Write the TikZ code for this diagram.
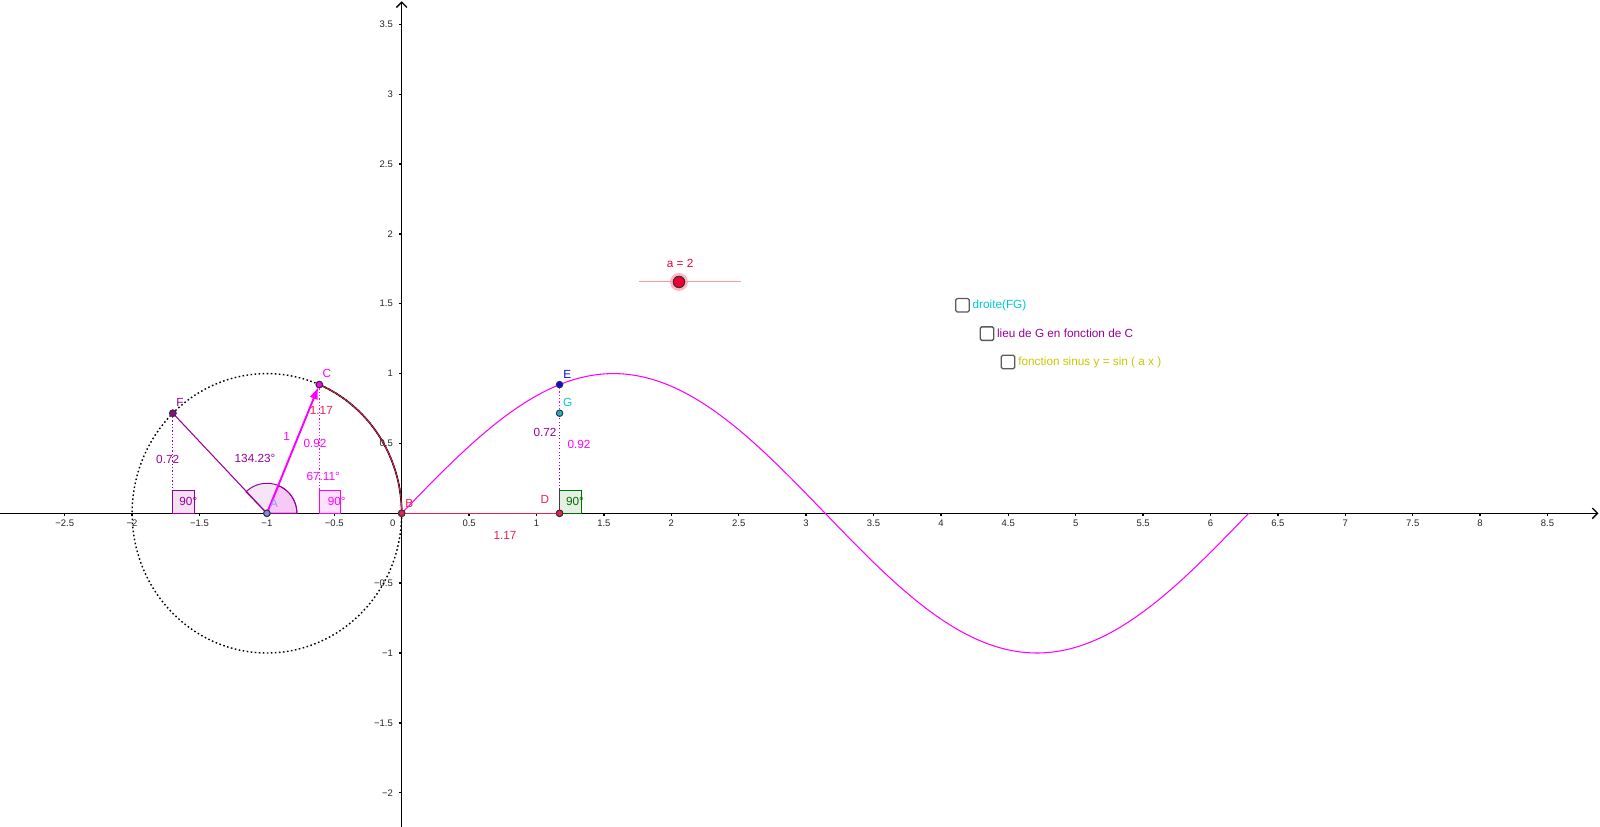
\documentclass[tikz,border=0pt]{standalone}
\usepackage{fontspec}
\setmainfont{Liberation Sans}
\usetikzlibrary{arrows.meta}
\definecolor{mag}{RGB}{255,0,255}
\definecolor{pur}{RGB}{153,0,153}
\definecolor{crim}{RGB}{236,32,78}
\definecolor{sred}{RGB}{235,0,50}
\definecolor{blu}{RGB}{10,10,235}
\definecolor{cya}{RGB}{0,200,200}
\definecolor{apt}{RGB}{135,135,225}
\definecolor{alab}{RGB}{150,150,255}
\definecolor{grn}{RGB}{0,110,0}
\definecolor{ylw}{RGB}{200,200,0}
\definecolor{sld}{RGB}{255,150,170}
\definecolor{cbx}{RGB}{90,90,90}
\tikzset{
  lab/.style={font=\fontsize{6.7}{8}\selectfont, inner sep=0pt},
  ticklab/.style={font=\fontsize{5.4}{6.5}\selectfont, inner sep=0pt, text=black!85},
  pt/.style={circle, draw=black!80, line width=0.55pt, inner sep=0pt, minimum size=0.13cm},
  circdot/.style={black, line width=0.8pt, dash pattern=on 0.9pt off 1.4pt},
  vdot/.style={line width=0.7pt, dash pattern=on 0.7pt off 1.2pt},
  rbox/.style={line width=0.55pt},
  chk/.style={draw=cbx, line width=0.75pt, rounded corners=0.03cm, minimum size=0.27cm, inner sep=0pt},
  axis/.style={black, line width=0.75pt}
}
\begin{document}
\begin{tikzpicture}[x=2.696cm,y=2.794cm]
\useasboundingbox (-2.980,-2.2455) rectangle (8.8895,3.6743);
% axes
\coordinate (xl) at (-2.980,0);
\coordinate (xr) at (8.878,0);
\coordinate (yb) at (0,-2.2455);
\coordinate (yt) at (0,3.665);
\draw[axis, -{Straight Barb[length=3pt,width=6pt]}] (xl) -- (xr);
\draw[axis, -{Straight Barb[length=3pt,width=6pt]}] (yb) -- (yt);
\foreach \v/\t [count=\i] in {-2.5/−2.5,-2/−2,-1.5/−1.5,-1/−1,-0.5/−0.5,0.5/0.5,1/1,1.5/1.5,2/2,2.5/2.5,3/3,3.5/3.5,4/4,4.5/4.5,5/5,5.5/5.5,6/6,6.5/6.5,7/7,7.5/7.5,8/8,8.5/8.5}{
  \draw[axis] (\v,0) -- ++(0,-0.06cm);
  \node[ticklab] (xt\i) at ([yshift=-0.2cm]\v,0) {\t};
}
\foreach \v/\t [count=\i] in {-2/−2,-1.5/−1.5,-1/−1,-0.5/−0.5,0.5/0.5,1/1,1.5/1.5,2/2,2.5/2.5,3/3,3.5/3.5}{
  \draw[axis] (0,\v) -- ++(-0.06cm,0);
  \node[ticklab, anchor=east] (yt\i) at ([xshift=-0.17cm]0,\v) {\t};
}
\node[ticklab] (o0) at ([xshift=-0.18cm,yshift=-0.2cm]0,0) {0};

% circle
\draw[circdot] plot[domain=0:360, samples=240] ({-1+cos(\x)},{sin(\x)});
% arc C->B
\draw[black, line width=0.9pt] plot[domain=0:67.11, samples=60] ({-1+cos(\x)},{sin(\x)});
\draw[crim, line width=0.45pt] plot[domain=0:67.11, samples=60] ({-1+cos(\x)},{sin(\x)});

% sine curve
\draw[mag, line width=0.6pt] plot[domain=0:6.2832, samples=300] (\x,{sin(\x r)});

% coordinates
\coordinate (Ac) at (-1,0);
\coordinate (Fp) at (-1.69766,0);
\coordinate (Cp) at (-0.61105,0);

% angle sectors
\filldraw[fill=pur, fill opacity=0.1, draw=pur, line width=0.55pt] (Ac) -- plot[domain=0:134.23, samples=40] ({-1+0.2226*cos(\x)},{0.2147*sin(\x)}) -- cycle;
\filldraw[fill=mag, fill opacity=0.12, draw=pur, line width=0.55pt] (Ac) -- plot[domain=0:67.11, samples=30] ({-1+0.2226*cos(\x)},{0.2147*sin(\x)}) -- cycle;

% right angle boxes
\filldraw[rbox, draw=pur, fill=pur!12] (Fp) rectangle ++(0.16,0.16);
\filldraw[rbox, draw=mag, fill=mag!12] (Cp) rectangle ++(0.16,0.16);
\filldraw[rbox, draw=grn, fill=grn!10] (1.1713,0) rectangle ++(0.16,0.16);

% points (nodes)
\node[pt, fill=apt] (A) at (-1,0) {};
\node[pt, fill=crim] (B) at (0,0) {};
\node[pt, fill=mag] (C) at (-0.61105,0.92126) {};
\node[pt, fill=pur] (F) at (-1.69766,0.71643) {};
\node[pt, fill=crim] (D) at (1.1713,0) {};
\node[pt, fill=blu] (E) at (1.1713,0.92126) {};
\node[pt, fill=cya] (G) at (1.1713,0.71643) {};

% dotted verticals
\draw[vdot, pur] (F) -- (Fp);
\draw[vdot, mag] (C) -- (Cp);
\draw[vdot, mag] (D) -- (E);
\draw[vdot, pur] (D) -- (G);

% segments
\draw[pur, line width=0.6pt] (A.center) -- (F);
\draw[crim, line width=0.75pt] (B) -- (D);
\draw[mag, line width=1.1pt, -{Triangle[length=0.22cm,width=0.15cm]}] (A.center) -- (C);

% redraw points on top
\node[pt, fill=apt] (A2) at (A) {};
\node[pt, fill=crim] (B2) at (B) {};
\node[pt, fill=mag] (C2) at (C) {};
\node[pt, fill=pur] (F2) at (F) {};
\node[pt, fill=crim] (D2) at (D) {};

% labels
\node[lab, text=mag] (lC) at (-0.556,0.999) {C};
\node[lab, text=pur] (lF) at (-1.645,0.792) {F};
\node[lab, text=crim] (lArc) at (-0.596,0.739) {1.17};
\node[lab, text=mag] (l1) at (-0.853,0.553) {1};
\node[lab, text=mag] (lc92) at (-0.643,0.501) {0.92};
\node[lab, text=pur] (lf72) at (-1.736,0.389) {0.72};
\node[lab, text=pur] (lang1) at (-1.088,0.391) {134.23°};
\node[lab, text=mag] (lang2) at (-0.582,0.262) {67.11°};
\node[lab, text=pur] (lr1) at (-1.583,0.088) {90°};
\node[lab, text=mag] (lr2) at (-0.482,0.088) {90°};
\node[lab, text=alab] (lA) at (-0.947,0.067) {A};
\node[lab, text=crim] (lB) at (0.056,0.072) {B};
\node[lab, text=blu] (lE) at (1.228,0.997) {E};
\node[lab, text=cya] (lG) at (1.231,0.792) {G};
\node[lab, text=pur] (lg72) at (1.063,0.577) {0.72};
\node[lab, text=mag] (le92) at (1.315,0.494) {0.92};
\node[lab, text=crim] (lD) at (1.063,0.100) {D};
\node[lab, text=grn] (lr3) at (1.286,0.088) {90°};
\node[lab, text=crim] (lBD) at (0.766,-0.155) {1.17};

% slider
\coordinate (s1) at (1.763,1.656);
\coordinate (s2) at (2.510,1.656);
\draw[sld, line width=0.6pt] (s1) -- (s2);
\draw[sld, line width=0.5pt] (s2) -- ++(0,0.02cm);
\node[circle, fill=sld, fill opacity=0.7, inner sep=0pt, minimum size=0.36cm] (ah) at (2.057,1.656) {};
\node[circle, fill=sred, draw=black!80, line width=0.55pt, inner sep=0pt, minimum size=0.23cm] (ap) at (2.057,1.656) {};
\node[lab, text=sred] (la) at (2.065,1.790) {a = 2};

% checkboxes
\node[chk] (cb1) at (4.160,1.489) {};
\node[lab, text=cya, anchor=west] (cl1) at (4.233,1.489) {droite(FG)};
\node[chk] (cb2) at (4.342,1.286) {};
\node[lab, text=pur, anchor=west] (cl2) at (4.414,1.286) {lieu de G en fonction de C};
\node[chk] (cb3) at (4.498,1.083) {};
\node[lab, text=ylw, anchor=west] (cl3) at (4.572,1.083) {fonction sinus y = sin ( a x )};
\end{tikzpicture}
\end{document}
